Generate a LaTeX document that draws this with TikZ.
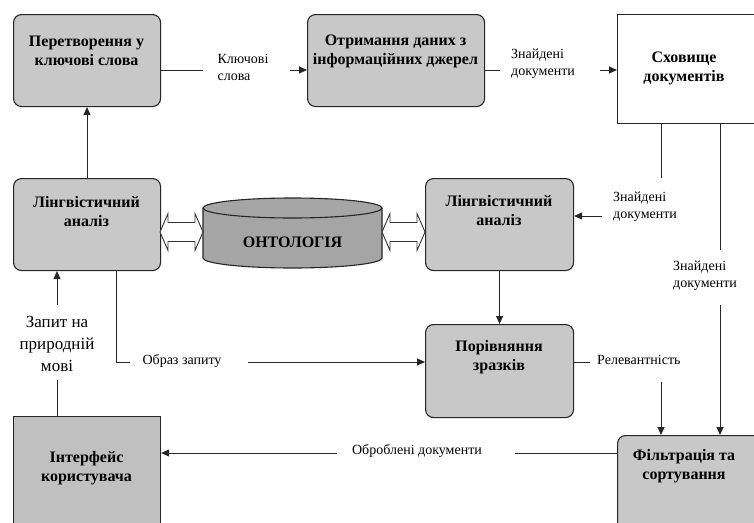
\documentclass[tikz,border=0pt]{standalone}
\usepackage{fontspec}
\setmainfont{Liberation Serif}
\usetikzlibrary{arrows.meta}
\definecolor{boxgrey}{RGB}{200,200,200}
\definecolor{dbgrey}{RGB}{165,165,165}
\definecolor{usergrey}{RGB}{192,192,192}
\tikzset{
  x=1pt, y=-1pt,
  flowbox/.style={draw=black!85, line width=1.1pt, fill=boxgrey, rounded corners=8pt,
    inner sep=0pt, anchor=north west},
  plainbox/.style={draw=black!85, line width=1.1pt, inner sep=0pt, anchor=north west},
  boxtext/.style={font=\fontsize{16}{19}\selectfont\bfseries, align=center, inner sep=0pt},
  flowlabel/.style={font=\fontsize{14}{17}\selectfont, align=left, inner sep=0pt},
  wire/.style={line width=0.9pt, black!85},
  arr/.style={wire, -{Triangle[length=8pt,width=7pt]}},
  linkspot/.style={inner sep=0pt, minimum width=43pt, minimum height=37pt},
  linkshape/.style={draw=black!80, line width=0.9pt, fill=white, line join=miter}
}
% hollow two-headed arrow centred on a named node
\newcommand{\twowaylink}[1]{%
  \draw[linkshape, shift={(#1.center)}]
    (-21.5,0) -- (-13.5,-18.5) -- (-13.5,-9.5) -- (13.5,-9.5) -- (13.5,-18.5)
    -- (21.5,0) -- (13.5,18.5) -- (13.5,9.5) -- (-13.5,9.5) -- (-13.5,18.5) -- cycle;}
\begin{document}
\begin{tikzpicture}
\useasboundingbox (0,0) rectangle (754,522);
\fill[white] (0,0) rectangle (754,522);

% process boxes
\node[flowbox, minimum width=147pt, minimum height=92pt] (conv) at (13,14) {};
\node[flowbox, minimum width=177pt, minimum height=92pt] (fetch) at (307,14) {};
\node[plainbox, fill=white, minimum width=137pt, minimum height=109pt] (store) at (617,14) {};
\node[flowbox, minimum width=147pt, minimum height=92pt] (lingL) at (13,178) {};
\node[flowbox, minimum width=148pt, minimum height=92pt] (lingR) at (425,178) {};
\node[flowbox, minimum width=148pt, minimum height=93pt] (match) at (425,324) {};
\node[flowbox, minimum width=150pt, minimum height=100pt] (filt) at (617,435) {};
\node[plainbox, fill=usergrey, minimum width=147pt, minimum height=120pt] (ui) at (13,416) {};

% box captions
\node[boxtext] (tconv) at (86.5,51) {Перетворення у\\ключові слова};
\node[boxtext] (tfetch) at (395.5,51) {Отримання даних з\\інформаційних джерел};
\node[boxtext] (tstore) at (684,68) {Сховище\\документів};
\node[boxtext] (tlingL) at (86.5,212) {Лінгвістичний\\аналіз};
\node[boxtext] (tlingR) at (499,211) {Лінгвістичний\\аналіз};
\node[boxtext] (tmatch) at (499,357) {Порівняння\\зразків};
\node[boxtext] (tfilt) at (684,466) {Фільтрація та\\сортування};
\node[boxtext] (tui) at (86.5,468) {Інтерфейс\\користувача};

% ontology store (cylinder)
\node[inner sep=0pt, minimum width=179pt, minimum height=70pt] (onto) at (292.5,233) {};
\fill[dbgrey] (203,208) -- (203,258) arc[start angle=180, end angle=360, x radius=89.5pt, y radius=10pt]
  -- (382,208) arc[start angle=0, end angle=180, x radius=89.5pt, y radius=10pt] -- cycle;
\draw[line width=1.1pt, black!85] (203,208) -- (203,258)
  arc[start angle=180, end angle=360, x radius=89.5pt, y radius=10pt] -- (382,208);
\draw[line width=1.1pt, black!85] (292.5,208) ellipse[x radius=89.5pt, y radius=10pt];
\node[boxtext] (tonto) at (292.5,242) {ОНТОЛОГІЯ};

% two-way links to the ontology
\node[linkspot] (linkL) at (181.5,232) {};
\node[linkspot] (linkR) at (403.5,232) {};
\twowaylink{linkL}
\twowaylink{linkR}

% keywords
\coordinate (kw1) at (203,70);
\coordinate (kw2) at (290,70);
\draw[wire] (conv.east |- kw1) -- (kw1);
\draw[arr] (kw2) -- (fetch.west |- kw2);
\node[flowlabel] (lkw) at (243,67) {Ключові\\слова};

% found documents into the store
\coordinate (fd1) at (500,70);
\coordinate (fd2) at (600,70);
\draw[wire] (fetch.east |- fd1) -- (fd1);
\draw[arr] (fd2) -- (store.west |- fd2);
\node[flowlabel] (lfd) at (543,64) {Знайдені\\документи};

% store to right linguistic analysis
\coordinate (sa) at (661,178);
\coordinate (sb) at (602,216);
\draw[wire] (store.south -| sa) -- (sa);
\node[flowlabel, anchor=west] (lsa) at (613,207) {Знайдені\\документи};
\draw[arr] (sb) -- (lingR.east |- sb);

% store to filtering
\coordinate (sc) at (720,250);
\coordinate (sd) at (720,305);
\draw[wire] (store.south -| sc) -- (sc);
\node[flowlabel, anchor=west] (lsc) at (673,276) {Знайдені\\документи};
\draw[arr] (sd) -- (filt.north -| sd);

% left linguistic analysis to keyword conversion
\draw[arr] (lingL.north -| 87,0) -- (conv.south -| 87,0);

% natural language query
\coordinate (q1) at (57,380);
\coordinate (q2) at (57,305);
\draw[wire] (ui.north -| q1) -- (q1);
\node[align=center, inner sep=0pt, font=\fontsize{17}{22}\selectfont] (lq) at (57,344) {Запит на\\природній\\мові};
\draw[arr] (q2) -- (lingL.south -| q2);

% query image
\coordinate (im1) at (116,362);
\coordinate (im2) at (130,362);
\coordinate (im3) at (248,362);
\draw[wire] (lingL.south -| im1) -- (im1) -- (im2);
\node[flowlabel] (lim) at (182,361) {Образ запиту};
\draw[arr] (im3) -- (match.west |- im3);

% right linguistic analysis to matching
\draw[arr] (lingR.south) -- (match.north);

% relevance
\coordinate (r1) at (590,362);
\coordinate (r2) at (661,382);
\draw[wire] (match.east |- r1) -- (r1);
\node[flowlabel, anchor=west] (lr) at (597,360) {Релевантність};
\draw[arr] (r2) -- (filt.north -| r2);

% processed documents
\coordinate (p1) at (515,453);
\coordinate (p2) at (337,453);
\draw[wire] (filt.west |- p1) -- (p1);
\node[flowlabel] (lp) at (417,451) {Оброблені документи};
\draw[arr] (p2) -- (ui.east |- p2);
\end{tikzpicture}
\end{document}
